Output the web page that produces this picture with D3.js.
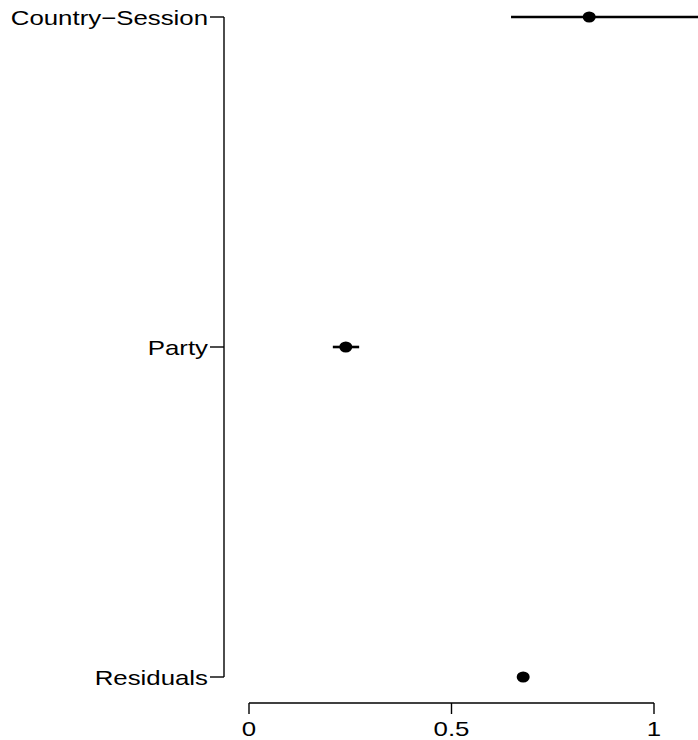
<!DOCTYPE html>
<html>
<head>
<meta charset="utf-8">
<script src="https://cdn.jsdelivr.net/npm/d3@7/dist/d3.min.js"></script>
<style>
  html, body { margin: 0; padding: 0; background: #fff; }
  svg { display: block; }
  text { font-family: "Liberation Sans", Arial, Helvetica, sans-serif; fill: #000; }
</style>
</head>
<body>
<svg id="chart" width="698" height="740"></svg>
<script>
// ---- data ----
const terms = ["Country\u2212Session", "Party", "Residuals"];
const estimates = [0.84, 0.239, 0.677];
const lower = [0.647, 0.207, 0.670];
const upper = [1.15, 0.272, 0.684];
const xTicks = [0, 0.5, 1];
const xTickLabels = ["0", "0.5", "1"];

// ---- layout ----
const W = 698, H = 740;
const svg = d3.select("#chart");
const stretch = 1.23;
const fontSize = 21;

const x = d3.scaleLinear().domain([0, 1]).range([249, 654]);
const y = d3.scalePoint().domain(terms).range([17, 677]);
const axisX = 224;
const axisY = 703;

svg.append("defs").append("clipPath").attr("id", "clip")
  .append("rect").attr("x", axisX + 1).attr("y", 0).attr("width", W).attr("height", axisY - 5);

// ---- y axis (left) ----
const gy = svg.append("g");
gy.append("line")
  .attr("x1", axisX).attr("x2", axisX)
  .attr("y1", y(terms[0])).attr("y2", y(terms[terms.length - 1]))
  .attr("stroke", "#000").attr("stroke-width", 1.4);
terms.forEach(t => {
  gy.append("line")
    .attr("x1", axisX - 14).attr("x2", axisX)
    .attr("y1", y(t)).attr("y2", y(t))
    .attr("stroke", "#000").attr("stroke-width", 1.4);
  gy.append("text")
    .attr("transform", `translate(${axisX - 16},${y(t) + 7.5}) scale(${stretch},1)`)
    .attr("text-anchor", "end")
    .attr("font-size", fontSize)
    .text(t);
});

// ---- x axis (bottom) ----
const gx = svg.append("g");
gx.append("line")
  .attr("x1", x(xTicks[0])).attr("x2", x(xTicks[xTicks.length - 1]))
  .attr("y1", axisY).attr("y2", axisY)
  .attr("stroke", "#000").attr("stroke-width", 1.4);
xTicks.forEach((v, i) => {
  gx.append("line")
    .attr("x1", x(v)).attr("x2", x(v))
    .attr("y1", axisY).attr("y2", axisY + 11)
    .attr("stroke", "#000").attr("stroke-width", 1.4);
  gx.append("text")
    .attr("transform", `translate(${x(v)},${axisY + 33}) scale(${stretch},1)`)
    .attr("text-anchor", "middle")
    .attr("font-size", fontSize)
    .text(xTickLabels[i]);
});

// ---- intervals and points ----
const plot = svg.append("g").attr("clip-path", "url(#clip)");
terms.forEach((t, i) => {
  plot.append("line")
    .attr("x1", x(lower[i])).attr("x2", x(upper[i]))
    .attr("y1", y(t)).attr("y2", y(t))
    .attr("stroke", "#000").attr("stroke-width", 2.6);
  plot.append("ellipse")
    .attr("cx", x(estimates[i])).attr("cy", y(t))
    .attr("rx", 6.5).attr("ry", 5.5)
    .attr("fill", "#000");
});
</script>
</body>
</html>
